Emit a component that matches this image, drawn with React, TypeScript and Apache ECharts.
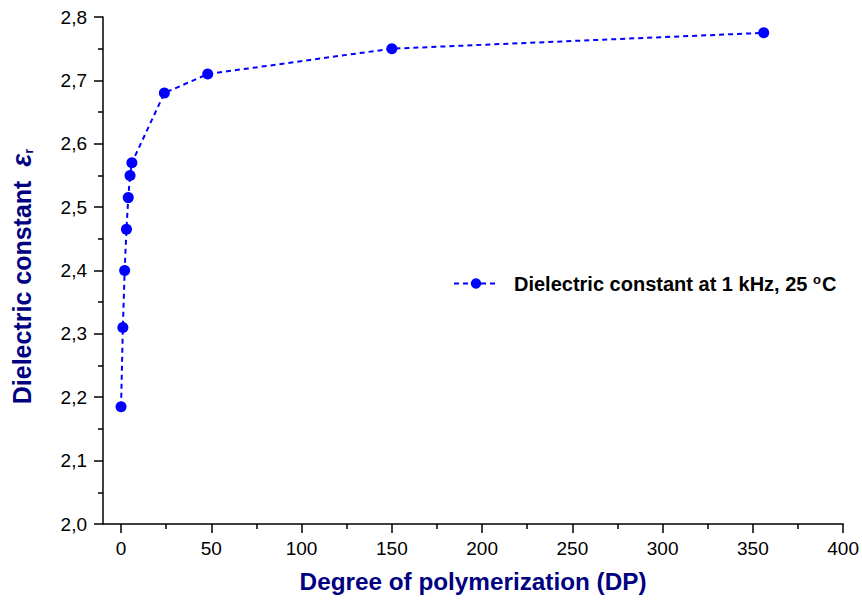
import React, { useEffect, useRef } from "react";
import * as echarts from "echarts";

const dpValues = [0, 1, 2, 3, 4, 5, 6, 24, 48, 150, 356];
const epsValues = [2.185, 2.31, 2.4, 2.465, 2.515, 2.55, 2.57, 2.68, 2.71, 2.75, 2.775];
const xMajorTicks = [0, 50, 100, 150, 200, 250, 300, 350, 400];
const xMinorTicks = [25, 75, 125, 175, 225, 275, 325, 375];
const seriesName = "Dielectric constant at 1 kHz, 25 °C";

const FONT = "Liberation Sans, Arial, sans-serif";
const NAVY = "#000080";
const BLUE = "#0000ff";

export default function App() {
  const ref = useRef<HTMLDivElement>(null);
  useEffect(() => {
    if (!ref.current) return;
    const chart = echarts.init(ref.current, null, { renderer: "svg" });
    const data = dpValues.map((x, i) => [x, epsValues[i]]);
    chart.setOption({
      animation: false,
      backgroundColor: "#ffffff",
      grid: { left: 101, right: 17, top: 17, bottom: 80 },
      legend: {
        left: 448,
        top: 268,
        itemWidth: 44,
        itemHeight: 13,
        data: [seriesName],
        formatter: () => "Dielectric constant at 1 kHz, 25 {sup|o}C",
        textStyle: {
          fontFamily: FONT,
          fontSize: 20,
          fontWeight: "bold",
          color: "#000",
          padding: [0, 0, 0, 11],
          rich: {
            sup: { fontFamily: FONT, fontSize: 13, fontWeight: "bold", color: "#000", verticalAlign: "top", padding: [0, 1, 8, 0] },
          },
        },
      },
      xAxis: [
        {
          type: "value",
          min: -10,
          max: 400,
          position: "bottom",
          name: "Degree of polymerization (DP)",
          nameLocation: "middle",
          nameGap: 45,
          nameTextStyle: { fontFamily: FONT, fontSize: 24.3, fontWeight: "bold", color: NAVY },
          axisLine: { show: true, onZero: false, lineStyle: { color: "#000", width: 1.5 } },
          axisTick: { show: true, customValues: xMajorTicks, length: 9, lineStyle: { color: "#000", width: 1.5 } },
          axisLabel: { customValues: xMajorTicks, fontFamily: FONT, fontSize: 19, color: "#000", margin: 15 },
          splitLine: { show: false },
        },
        {
          type: "value",
          min: -10,
          max: 400,
          position: "bottom",
          axisLine: { show: false },
          axisTick: { show: true, customValues: xMinorTicks, length: 5, lineStyle: { color: "#000", width: 1.5 } },
          axisLabel: { show: false },
          splitLine: { show: false },
        },
      ],
      yAxis: {
        type: "value",
        min: 2.0,
        max: 2.8,
        interval: 0.1,
        name: "Dielectric constant  {eps|ε}{sub|r}",
        nameLocation: "middle",
        nameGap: 68,
        nameTextStyle: {
          fontFamily: FONT,
          fontSize: 25,
          fontWeight: "bold",
          color: NAVY,
          padding: [0, 12, 0, 0],
          rich: {
            eps: { fontFamily: FONT, fontSize: 27, fontWeight: "bold", fontStyle: "italic", color: NAVY },
            sub: { fontFamily: FONT, fontSize: 13, fontWeight: "bold", color: NAVY, verticalAlign: "bottom" },
          },
        },
        axisLine: { show: true, onZero: false, lineStyle: { color: "#000", width: 1.5 } },
        axisTick: { show: true, length: 9, lineStyle: { color: "#000", width: 1.5 } },
        minorTick: { show: true, splitNumber: 2, length: 5, lineStyle: { color: "#000", width: 1.5 } },
        axisLabel: {
          fontFamily: FONT,
          fontSize: 19,
          color: "#000",
          margin: 16,
          formatter: (v: number) => v.toFixed(1).replace(".", ","),
        },
        splitLine: { show: false },
      },
      series: [
        {
          name: seriesName,
          type: "line",
          data,
          symbol: "circle",
          symbolSize: 11,
          itemStyle: { color: BLUE },
          lineStyle: { color: BLUE, width: 2, type: [5, 4] },
        },
      ],
    });
    return () => chart.dispose();
  }, []);
  return <div ref={ref} style={{ position: "fixed", left: 0, top: 0, width: 862, height: 604 }} />;
}
